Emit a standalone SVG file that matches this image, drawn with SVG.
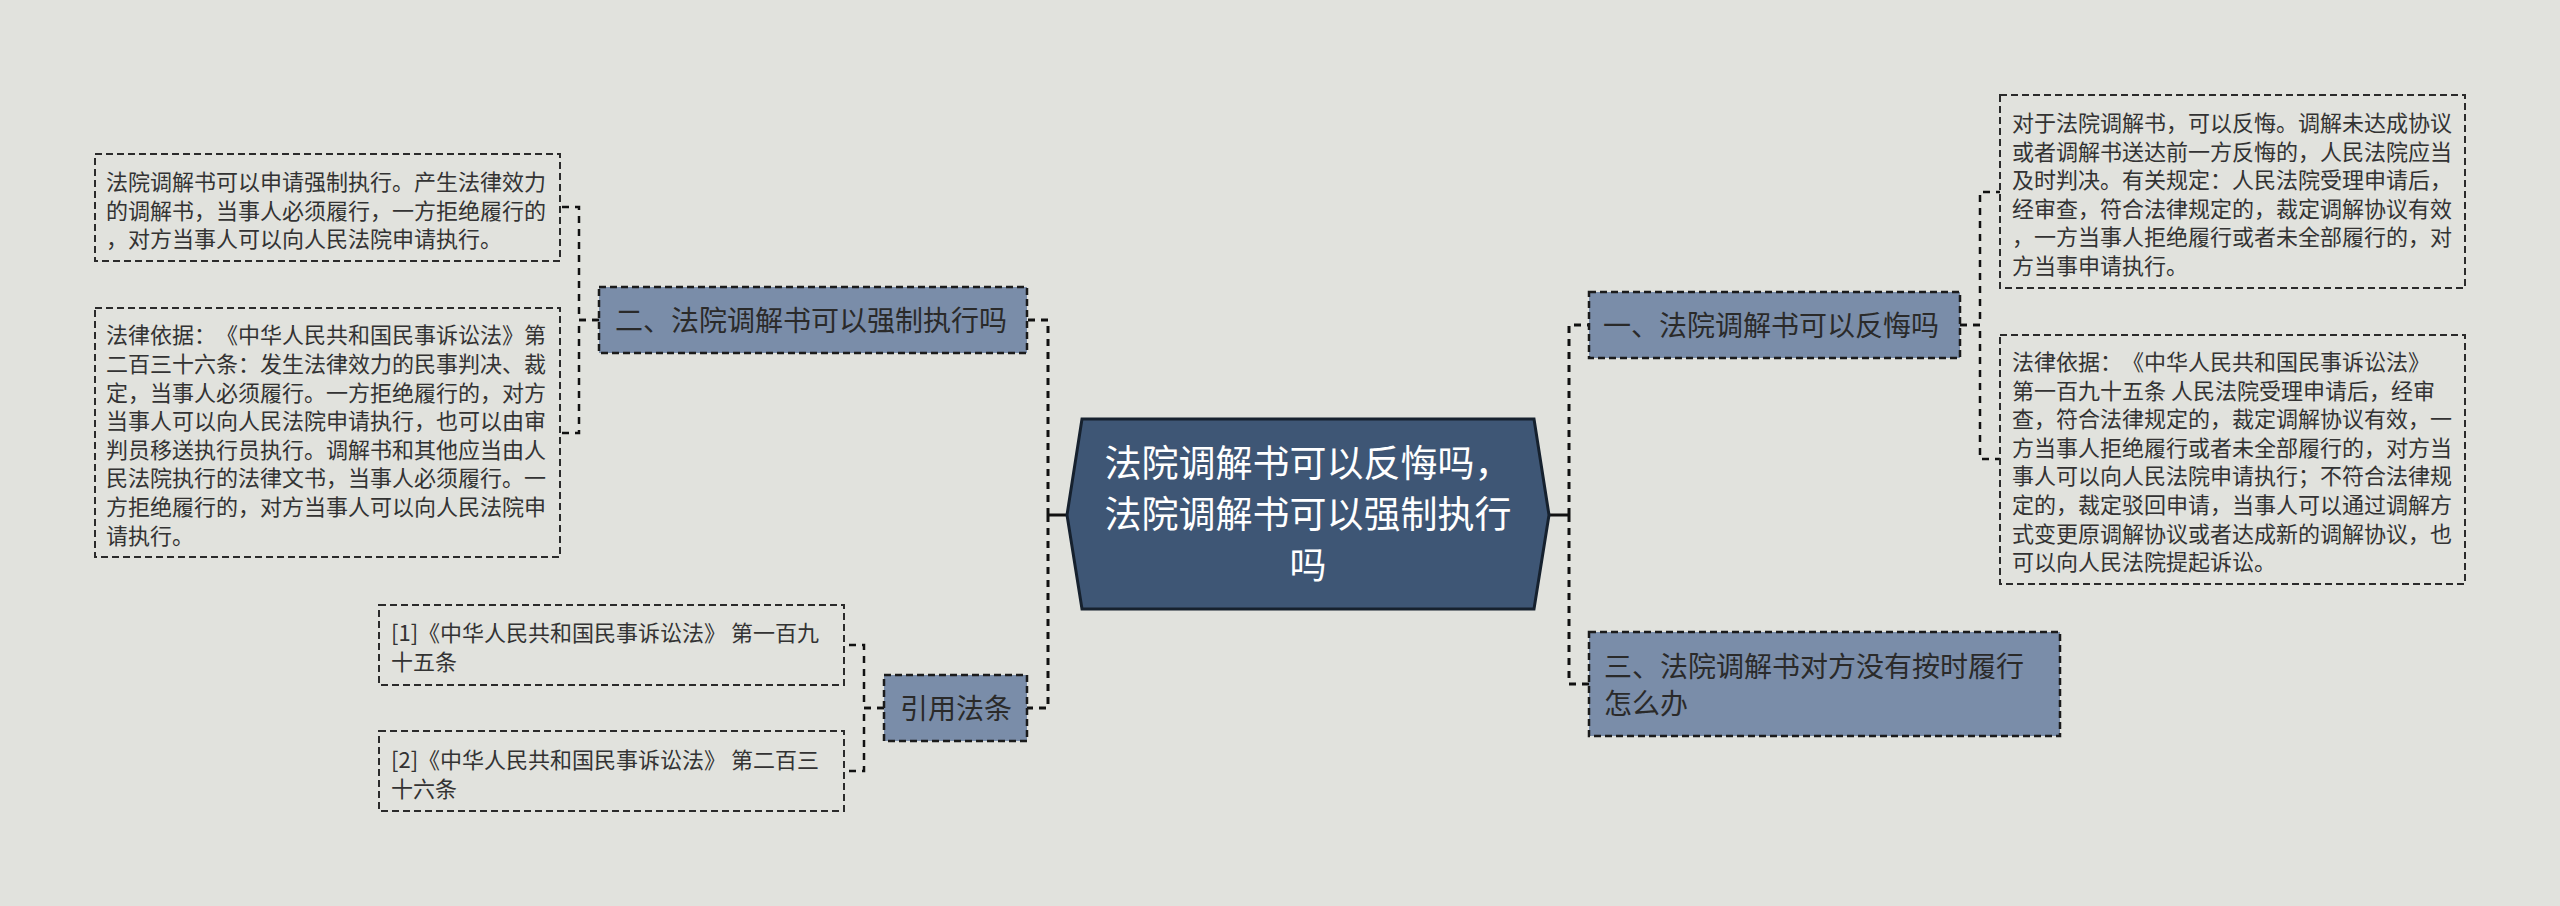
<svg xmlns="http://www.w3.org/2000/svg" width="2560" height="906" viewBox="0 0 2560 906">
<style>
.bg{fill:#e1e2dd}
.main{fill:#3e5675;stroke:#16212e;stroke-width:3}
.sub{fill:#7a8da9;stroke:#1b1b1b;stroke-width:2.5;stroke-dasharray:7,4}
.leaf{fill:none;stroke:#2b2b2b;stroke-width:2;stroke-dasharray:7,4}
.trunk{fill:none;stroke:#111;stroke-width:3;stroke-dasharray:7,6}
.br{fill:none;stroke:#111;stroke-width:2.5;stroke-dasharray:7,6}
.solid{fill:none;stroke:#111;stroke-width:3}
text{text-spacing-trim:space-all}
.tm{font-family:"Noto Sans CJK SC","Noto Sans",sans-serif;font-size:37px;fill:#ffffff;text-anchor:middle}
.ts{font-family:"Noto Sans CJK SC","Noto Sans",sans-serif;font-size:28px;fill:#2a2a2a}
.tl{font-family:"Noto Sans CJK SC","Noto Sans",sans-serif;font-size:22px;fill:#333333}
</style>
<rect class="bg" x="0" y="0" width="2560" height="906"/>
<g id="connectors">
  <path class="solid" d="M1549,515 H1569"/>
  <path class="trunk" d="M1569,515 V325 H1589"/>
  <path class="trunk" d="M1569,515 V684 H1589"/>
  <path class="solid" d="M1067,515 H1048"/>
  <path class="trunk" d="M1048,515 V320 H1027"/>
  <path class="trunk" d="M1048,515 V708 H1027"/>
  <path class="br" d="M1960,325 H1980 V192 H2000"/>
  <path class="br" d="M1960,325 H1980 V459 H2000"/>
  <path class="br" d="M599,320 H579 V207 H560"/>
  <path class="br" d="M599,320 H579 V433 H560"/>
  <path class="br" d="M884,708 H864 V645 H844"/>
  <path class="br" d="M884,708 H864 V771 H844"/>
</g>
<g id="center">
  <polygon class="main" points="1067,515 1082,419 1534,419 1549,515 1534,609 1082,609"/>
  <text class="tm"><tspan x="1308" y="477">法院调解书可以反悔吗，</tspan><tspan x="1308" y="528">法院调解书可以强制执行</tspan><tspan x="1308" y="579">吗</tspan></text>
</g>
<g id="node-1">
  <rect class="sub" x="1589" y="292" width="371" height="66"/>
  <text class="ts" x="1603" y="336">一、法院调解书可以反悔吗</text>
</g>
<g id="node-1a">
  <rect class="leaf" x="2000" y="95" width="465" height="193"/>
  <text class="tl"><tspan x="2012" y="131">对于法院调解书，可以反悔。调解未达成协议</tspan><tspan x="2012" y="159.6">或者调解书送达前一方反悔的，人民法院应当</tspan><tspan x="2012" y="188.2">及时判决。有关规定：人民法院受理申请后，</tspan><tspan x="2012" y="216.8">经审查，符合法律规定的，裁定调解协议有效</tspan><tspan x="2012" y="245.4">，一方当事人拒绝履行或者未全部履行的，对</tspan><tspan x="2012" y="274">方当事申请执行。</tspan></text>
</g>
<g id="node-1b">
  <rect class="leaf" x="2000" y="335" width="465" height="249"/>
  <text class="tl"><tspan x="2012" y="370">法律依据：《中华人民共和国民事诉讼法》</tspan><tspan x="2012" y="398.6">第一百九十五条 人民法院受理申请后，经审</tspan><tspan x="2012" y="427.2">查，符合法律规定的，裁定调解协议有效，一</tspan><tspan x="2012" y="455.8">方当事人拒绝履行或者未全部履行的，对方当</tspan><tspan x="2012" y="484.4">事人可以向人民法院申请执行；不符合法律规</tspan><tspan x="2012" y="513">定的，裁定驳回申请，当事人可以通过调解方</tspan><tspan x="2012" y="541.6">式变更原调解协议或者达成新的调解协议，也</tspan><tspan x="2012" y="570.2">可以向人民法院提起诉讼。</tspan></text>
</g>
<g id="node-3">
  <rect class="sub" x="1589" y="632" width="471" height="104"/>
  <text class="ts"><tspan x="1604" y="677">三、法院调解书对方没有按时履行</tspan><tspan x="1604" y="714">怎么办</tspan></text>
</g>
<g id="node-2">
  <rect class="sub" x="599" y="287" width="428" height="66"/>
  <text class="ts" x="615" y="331">二、法院调解书可以强制执行吗</text>
</g>
<g id="node-2a">
  <rect class="leaf" x="95" y="154" width="465" height="107"/>
  <text class="tl"><tspan x="106" y="190">法院调解书可以申请强制执行。产生法律效力</tspan><tspan x="106" y="218.6">的调解书，当事人必须履行，一方拒绝履行的</tspan><tspan x="106" y="247.2">，对方当事人可以向人民法院申请执行。</tspan></text>
</g>
<g id="node-2b">
  <rect class="leaf" x="95" y="308" width="465" height="249"/>
  <text class="tl"><tspan x="106" y="343.4">法律依据：《中华人民共和国民事诉讼法》第</tspan><tspan x="106" y="372">二百三十六条：发生法律效力的民事判决、裁</tspan><tspan x="106" y="400.6">定，当事人必须履行。一方拒绝履行的，对方</tspan><tspan x="106" y="429.2">当事人可以向人民法院申请执行，也可以由审</tspan><tspan x="106" y="457.8">判员移送执行员执行。调解书和其他应当由人</tspan><tspan x="106" y="486.4">民法院执行的法律文书，当事人必须履行。一</tspan><tspan x="106" y="515">方拒绝履行的，对方当事人可以向人民法院申</tspan><tspan x="106" y="543.6">请执行。</tspan></text>
</g>
<g id="node-cite">
  <rect class="sub" x="884" y="675" width="143" height="66"/>
  <text class="ts" x="900" y="719">引用法条</text>
</g>
<g id="node-cite1">
  <rect class="leaf" x="379" y="605" width="465" height="80"/>
  <text class="tl"><tspan x="391" y="641">[1]《中华人民共和国民事诉讼法》 第一百九</tspan><tspan x="391" y="670">十五条</tspan></text>
</g>
<g id="node-cite2">
  <rect class="leaf" x="379" y="731" width="465" height="80"/>
  <text class="tl"><tspan x="391" y="768">[2]《中华人民共和国民事诉讼法》 第二百三</tspan><tspan x="391" y="797">十六条</tspan></text>
</g>
</svg>
